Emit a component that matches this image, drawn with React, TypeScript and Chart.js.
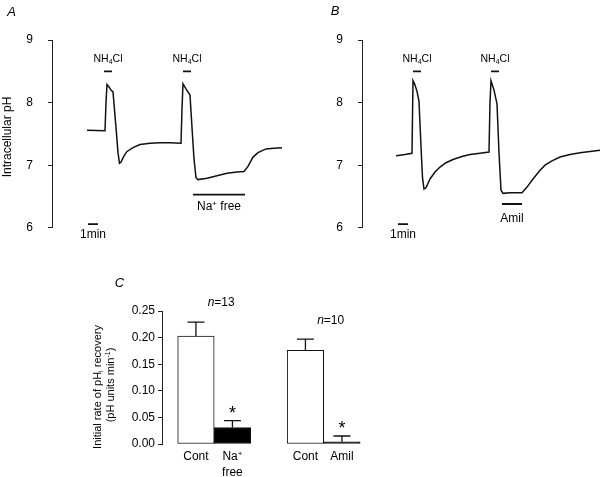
import React, { useEffect, useRef } from "react";
import { Chart, registerables } from "chart.js";

Chart.register(...registerables);

const FONT = "'Liberation Sans', Arial, Helvetica, sans-serif";

// ---------- DATA ----------
// Panel A: time (min) and intracellular pH
const timeA = [3.5, 5.3, 5.4, 5.5, 5.7, 5.9, 6.1, 6.4, 6.6, 6.75, 6.9, 7.2, 7.5, 8.1, 8.8, 9.8, 10.8, 11.8, 12.9, 13.0, 13.1, 13.4, 13.8, 14.0, 14.2, 14.4, 14.6, 15.5, 16.5, 17.5, 18.5, 19.2, 19.6, 20.1, 20.6, 21.4, 22.2, 23.0];
const pHA = [7.56, 7.55, 8.0, 8.29, 8.25, 8.2, 8.17, 7.6, 7.2, 7.03, 7.05, 7.15, 7.22, 7.28, 7.33, 7.35, 7.36, 7.36, 7.35, 7.9, 8.3, 8.22, 8.12, 7.6, 7.1, 6.8, 6.77, 6.79, 6.83, 6.87, 6.89, 6.9, 6.98, 7.13, 7.2, 7.26, 7.27, 7.28];

// Panel B: time (min) and intracellular pH
const timeB = [3.4, 3.8, 4.3, 5.0, 5.1, 5.3, 5.5, 5.7, 5.9, 6.05, 6.2, 6.4, 6.8, 7.3, 7.8, 8.4, 9.1, 10.0, 10.8, 11.8, 12.7, 12.8, 12.9, 13.2, 13.5, 13.7, 13.9, 14.1, 14.8, 15.5, 16.0, 16.5, 17.1, 17.7, 18.3, 19.0, 19.8, 20.8, 21.8, 22.8, 23.8];
const pHB = [7.15, 7.16, 7.17, 7.19, 8.35, 8.28, 8.18, 8.02, 7.3, 6.8, 6.62, 6.64, 6.78, 6.89, 6.97, 7.04, 7.09, 7.14, 7.17, 7.19, 7.21, 8.0, 8.35, 8.2, 7.98, 7.2, 6.6, 6.55, 6.56, 6.56, 6.56, 6.65, 6.78, 6.9, 7.0, 7.07, 7.13, 7.17, 7.2, 7.22, 7.24];

const pHTicks = [6, 7, 8, 9];

// application periods (min)
const nh4clA = [[5.2, 6.0], [13.1, 13.9]];
const naFreeA = [14.1, 19.3];
const nh4clB = [[5.1, 5.9], [12.9, 13.7]];
const amilB = [14.0, 16.0];
const oneMin = [3.6, 4.6];

// Panel C: initial rate of pHi recovery
const barCategories = ["Cont", "Na+ free", "Cont", "Amil"];
const barPositions = [0, 1, 3, 4];
const barMeans = [0.203, 0.031, 0.176, 0.004];
const barSEM = [0.026, 0.013, 0.021, 0.011];
const barSignificant = [false, true, false, true];
const groupN = [13, 10];
const groupMembers = [[0, 1], [2, 3]];
const rateTicks = [0, 0.05, 0.1, 0.15, 0.2, 0.25];

// ---------- helpers ----------
type Seg = { t: string; s?: "sub" | "sup"; it?: boolean };

function drawRich(ctx: CanvasRenderingContext2D, segs: Seg[], cx: number, cy: number, size: number, rot = 0) {
  ctx.save();
  ctx.translate(cx, cy);
  if (rot) ctx.rotate(rot);
  const fontFor = (sg: Seg) => `${sg.it ? "italic " : ""}${sg.s ? Math.round(size * 0.68) : size}px ${FONT}`;
  let total = 0;
  const widths = segs.map((sg) => {
    ctx.font = fontFor(sg);
    const w = ctx.measureText(sg.t).width;
    total += w;
    return w;
  });
  let x = -total / 2;
  const base = size * 0.36;
  ctx.fillStyle = "#000";
  ctx.textBaseline = "alphabetic";
  ctx.textAlign = "left";
  segs.forEach((sg, i) => {
    ctx.font = fontFor(sg);
    const dy = sg.s === "sub" ? size * 0.22 : sg.s === "sup" ? -size * 0.38 : 0;
    ctx.fillText(sg.t, x, base + dy);
    x += widths[i];
  });
  ctx.restore();
}

function richFromText(t: string): Seg[] {
  if (t.endsWith("+")) return [{ t: t.slice(0, -1) }, { t: "+", s: "sup" }];
  return [{ t }];
}

const NH4CL: Seg[] = [{ t: "NH" }, { t: "4", s: "sub" }, { t: "Cl" }];

interface Annot {
  span: number[];
  level: number;
  label: Seg[];
  labelLevel: number;
  size: number;
}

interface TraceCfg {
  time: number[];
  pH: number[];
  axisWidth: number;
  padding: { left: number; top: number; right: number; bottom: number };
  annots: Annot[];
  letter: string;
  letterPos: [number, number];
  title?: { text: string; x: number; y: number };
}

function makeTrace(canvas: HTMLCanvasElement, cfg: TraceCfg) {
  const traceData = cfg.time.map((t, i) => ({ x: t, y: cfg.pH[i] }));
  const datasets: any[] = [
    {
      data: traceData,
      borderColor: "#111",
      borderWidth: 1.5,
      pointRadius: 0,
      tension: 0,
      fill: false,
    },
    ...cfg.annots.map((a) => ({
      data: [
        { x: a.span[0], y: a.level },
        { x: a.span[1], y: a.level },
      ],
      borderColor: "#111",
      borderWidth: 1.8,
      pointRadius: 0,
      fill: false,
    })),
  ];
  const textPlugin = {
    id: "txt",
    afterDraw(chart: any) {
      const ctx = chart.ctx;
      const xs = chart.scales.x;
      const ys = chart.scales.y;
      cfg.annots.forEach((a) => {
        const cx = xs.getPixelForValue((a.span[0] + a.span[1]) / 2);
        drawRich(ctx, a.label, cx, ys.getPixelForValue(a.labelLevel), a.size);
      });
      drawRich(ctx, [{ t: cfg.letter, it: true }], cfg.letterPos[0], cfg.letterPos[1], 13);
      if (cfg.title) drawRich(ctx, [{ t: cfg.title.text }], cfg.title.x, cfg.title.y, 12, -Math.PI / 2);
    },
  };
  return new Chart(canvas, {
    type: "line",
    data: { datasets },
    plugins: [textPlugin],
    options: {
      responsive: false,
      animation: false,
      events: [],
      layout: { padding: cfg.padding },
      plugins: { legend: { display: false }, tooltip: { enabled: false } },
      scales: {
        x: { type: "linear", min: 0, max: 24, display: false },
        y: {
          type: "linear",
          min: 6,
          max: 9,
          afterFit: (s: any) => {
            s.width = cfg.axisWidth;
          },
          afterBuildTicks: (s: any) => {
            s.ticks = pHTicks.map((v) => ({ value: v }));
          },
          ticks: { color: "#000", font: { family: FONT, size: 12 }, padding: 15 },
          grid: { drawOnChartArea: false, drawTicks: true, tickLength: 4, color: "#222", lineWidth: 1 },
          border: { display: true, color: "#222", width: 1 },
        },
      },
    } as any,
  });
}

function makeBars(canvas: HTMLCanvasElement) {
  const plugin = {
    id: "errs",
    afterDatasetsDraw(chart: any) {
      const ctx = chart.ctx as CanvasRenderingContext2D;
      const xs = chart.scales.x;
      const ys = chart.scales.y;
      ctx.save();
      ctx.strokeStyle = "#111";
      ctx.lineWidth = 1.3;
      const tops: number[] = [];
      barMeans.forEach((m, i) => {
        const x = xs.getPixelForValue(barPositions[i]);
        const yb = ys.getPixelForValue(m);
        const yt = ys.getPixelForValue(m + barSEM[i]);
        tops.push(yt);
        ctx.beginPath();
        ctx.moveTo(x, yb);
        ctx.lineTo(x, yt);
        ctx.moveTo(x - 8.5, yt);
        ctx.lineTo(x + 8.5, yt);
        ctx.stroke();
        if (barSignificant[i]) {
          ctx.fillStyle = "#000";
          ctx.font = `18px ${FONT}`;
          ctx.textAlign = "center";
          ctx.textBaseline = "alphabetic";
          ctx.fillText("*", x, yt - 12 + 0.57 * 18);
        }
        const lines = barCategories[i].split(" ");
        lines.forEach((ln, k) => {
          drawRich(ctx, richFromText(ln), x, ys.getPixelForValue(0) + 12 + k * 16, 12);
        });
      });
      ctx.restore();
      groupMembers.forEach((g, gi) => {
        const cx = (xs.getPixelForValue(barPositions[g[0]]) + xs.getPixelForValue(barPositions[g[1]])) / 2 + 7;
        const top = Math.min(...g.map((i) => tops[i]));
        drawRich(ctx, [{ t: "n", it: true }, { t: "=" + groupN[gi] }], cx, top - 20, 12);
      });
      drawRich(ctx, [{ t: "C", it: true }], 59.5, 32, 13);
      drawRich(ctx, [{ t: "Initial rate of pH" }, { t: "i", s: "sub" }, { t: " recovery" }], 37, 137, 11, -Math.PI / 2);
      drawRich(ctx, [{ t: "(pH units min" }, { t: "-1", s: "sup" }, { t: ")" }], 50, 135, 11, -Math.PI / 2);
    },
  };
  return new Chart(canvas, {
    type: "bar",
    data: {
      datasets: [
        {
          data: barPositions.map((p, i) => ({ x: p, y: barMeans[i] })),
          backgroundColor: barPositions.map((_, i) => (i % 2 === 0 ? "#fff" : "#000")),
          borderColor: "#111",
          borderWidth: 1,
          borderSkipped: false,
          barPercentage: 1,
          categoryPercentage: 1,
        },
      ],
    },
    plugins: [plugin],
    options: {
      responsive: false,
      animation: false,
      events: [],
      layout: { padding: { left: 0, top: 61, right: 241, bottom: 33 } },
      plugins: { legend: { display: false }, tooltip: { enabled: false } },
      scales: {
        x: {
          type: "linear",
          min: -0.93,
          max: 4.55,
          offset: false,
          grid: { offset: false },
          display: false,
          afterBuildTicks: (s: any) => {
            s.ticks = barPositions.map((v) => ({ value: v }));
          },
        },
        y: {
          type: "linear",
          min: 0,
          max: 0.25,
          afterFit: (s: any) => {
            s.width = 102;
          },
          afterBuildTicks: (s: any) => {
            s.ticks = rateTicks.map((v) => ({ value: v }));
          },
          ticks: {
            color: "#000",
            font: { family: FONT, size: 12 },
            padding: 3,
            callback: (v: any) => Number(v).toFixed(2),
          },
          grid: { drawOnChartArea: false, drawTicks: true, tickLength: 4, color: "#222", lineWidth: 1 },
          border: { display: true, color: "#222", width: 1 },
        },
      },
    } as any,
  });
}

export default function App() {
  const refA = useRef<HTMLCanvasElement>(null);
  const refB = useRef<HTMLCanvasElement>(null);
  const refC = useRef<HTMLCanvasElement>(null);

  useEffect(() => {
    const naFree: Seg[] = [{ t: "Na" }, { t: "+", s: "sup" }, { t: " free" }];
    const charts = [
      makeTrace(refA.current!, {
        time: timeA,
        pH: pHA,
        axisWidth: 52,
        padding: { left: 0, top: 40, right: 8, bottom: 13 },
        annots: [
          ...nh4clA.map((s) => ({ span: s, level: 8.5, label: NH4CL, labelLevel: 8.71, size: 10.5 })),
          { span: naFreeA, level: 6.53, label: naFree, labelLevel: 6.35, size: 12 },
          { span: oneMin, level: 6.06, label: [{ t: "1min" }], labelLevel: 5.91, size: 12 },
        ],
        letter: "A",
        letterPos: [11.5, 11],
        title: { text: "Intracellular pH", x: 7, y: 137 },
      }),
      makeTrace(refB.current!, {
        time: timeB,
        pH: pHB,
        axisWidth: 62,
        padding: { left: 0, top: 40, right: 1, bottom: 13 },
        annots: [
          ...nh4clB.map((s) => ({ span: s, level: 8.5, label: NH4CL, labelLevel: 8.71, size: 10.5 })),
          { span: amilB, level: 6.38, label: [{ t: "Amil" }], labelLevel: 6.16, size: 12 },
          { span: oneMin, level: 6.06, label: [{ t: "1min" }], labelLevel: 5.91, size: 12 },
        ],
        letter: "B",
        letterPos: [35, 10.5],
      }),
      makeBars(refC.current!),
    ];
    return () => charts.forEach((c) => c.destroy());
  }, []);

  return (
    <div style={{ position: "fixed", left: 0, top: 0, width: 603, height: 477, background: "#fff" }}>
      <canvas ref={refA} width={300} height={250} style={{ position: "absolute", left: 0, top: 0, width: 300, height: 250 }} />
      <canvas ref={refB} width={303} height={250} style={{ position: "absolute", left: 300, top: 0, width: 303, height: 250 }} />
      <canvas ref={refC} width={543} height={227} style={{ position: "absolute", left: 60, top: 250, width: 543, height: 227 }} />
    </div>
  );
}
